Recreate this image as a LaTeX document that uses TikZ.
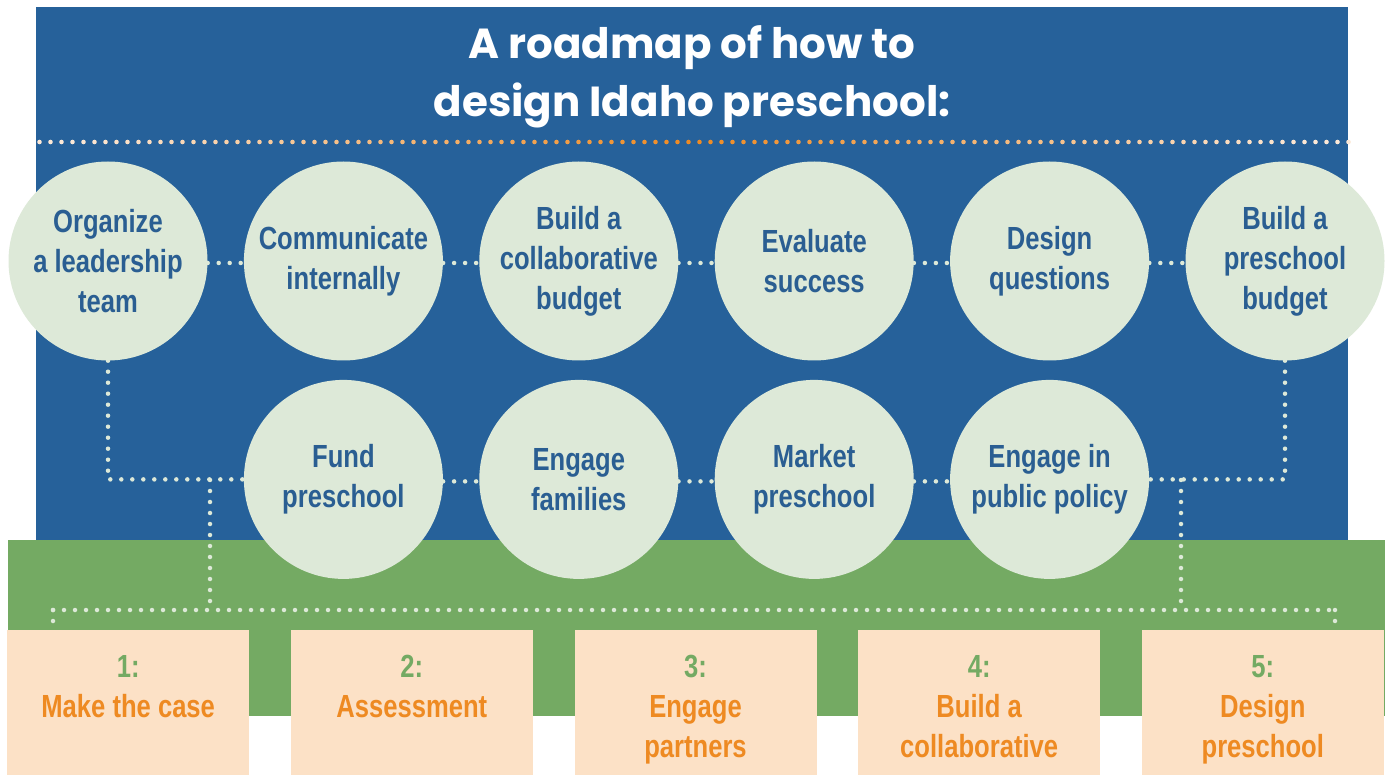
\documentclass[tikz,border=0pt]{standalone}
\usepackage{fontspec}
\setmainfont{Liberation Sans}
\newfontfamily\narrowfont[FakeStretch=0.8]{Liberation Sans}
\newfontfamily\titlefont{Poppins}
\usetikzlibrary{positioning, calc}
\definecolor{roadblue}{HTML}{26619A}
\definecolor{roadtext}{HTML}{2A5E92}
\definecolor{leaf}{HTML}{DDE9D8}
\definecolor{grass}{HTML}{74AA63}
\definecolor{peach}{HTML}{FCE1C6}
\definecolor{palepeach}{HTML}{FCE8D6}
\definecolor{roadorange}{HTML}{EE8A22}

\begin{document}
\begin{tikzpicture}[x=1pt, y=-1pt,
    stepcircle/.style={circle, fill=leaf, minimum size=199pt, inner sep=0pt, align=center,
      text=roadtext, font=\narrowfont\bfseries\fontsize{32}{40}\selectfont},
    stagebox/.style={rectangle, fill=peach, minimum width=242pt, minimum height=145pt,
      inner sep=0pt, anchor=north west},
    stagetext/.style={align=center, anchor=north, inner sep=0pt, text=roadorange,
      font=\narrowfont\bfseries\fontsize{32}{40}\selectfont},
    dotline/.style={leaf, line width=4.5pt, line cap=round, dash pattern=on 0pt off 11pt}]
      \useasboundingbox (0,0) rectangle (1385,775);
      \fill[white] (0,0) rectangle (1385,775);

      % Set up panels
      \fill[roadblue] (36,7) rectangle (1348,540);
      \fill[grass] (8,540) rectangle (1385,716);

      % Title
      \node[align=center, text=white, font=\titlefont\bfseries\fontsize{42}{58}\selectfont]
          (title) at (692,77) {A roadmap of how to\\design Idaho preschool:};

      % Dotted rule under the title
      \foreach \i in {0,...,119} {
          \pgfmathsetmacro{\px}{39.5+11*\i}
          \pgfmathsetmacro{\m}{max(0,100-abs(\px-692)/6.2)}
          \fill[roadorange!\m!palepeach] (\px,142) circle (2.3);
      }

      % Top row of steps
      \node[stepcircle] (c1) at (108,261) {Organize\\a leadership\\team};
      \node[stepcircle, right=36pt of c1] (c2) {Communicate\\internally};
      \node[stepcircle, right=36pt of c2] (c3) {Build a\\collaborative\\budget};
      \node[stepcircle, right=36pt of c3] (c4) {Evaluate\\success};
      \node[stepcircle, right=36pt of c4] (c5) {Design\\questions};
      \node[stepcircle, right=36pt of c5] (c6) {Build a\\preschool\\budget};

      % Bottom row of steps
      \node[stepcircle, below=19pt of c2] (b1) {Fund\\preschool};
      \node[stepcircle, below=19pt of c3] (b2) {Engage\\families};
      \node[stepcircle, below=19pt of c4] (b3) {Market\\preschool};
      \node[stepcircle, below=19pt of c5] (b4) {Engage in\\public policy};

      % Dotted links between the steps
      \foreach \a/\b in {c1/c2, c2/c3, c3/c4, c4/c5, c5/c6, b1/b2, b2/b3, b3/b4} {
          \draw[dotline] ([yshift=-2pt]\a.east) -- ([yshift=-2pt]\b.west);
      }
      \draw[dotline] (c1.south) |- (b1.west);
      \draw[dotline] (c6.south) |- (b4.east);

      % Stages
      \node[stagebox] (s1) at (7,630) {};
      \node[stagebox, right=41.25pt of s1.north east, anchor=north west] (s2) {};
      \node[stagebox, right=41.25pt of s2.north east, anchor=north west] (s3) {};
      \node[stagebox, right=41.25pt of s3.north east, anchor=north west] (s4) {};
      \node[stagebox, right=41.25pt of s4.north east, anchor=north west] (s5) {};

      \foreach \s/\n/\label in {s1/1/Make the case, s2/2/Assessment, s3/3/Engage\\partners,
                                s4/4/Build a\\collaborative, s5/5/Design\\preschool} {
          \node[stagetext, below=25pt of \s.north] (t\n) {\textcolor{grass}{\n:}\\\label};
      }

      % Dotted links down to the stages
      \coordinate (jl) at (210,480);
      \coordinate (jr) at (1181,480);
      \coordinate (hl) at (53,610);
      \coordinate (hr) at (1335,610);
      \draw[dotline] (jl) -- (jl |- hl);
      \draw[dotline] (jr) -- (jr |- hr);
      \draw[dotline] (hl) -- (hr);
      \draw[dotline] (hl) -- (hl |- s1.north);
      \draw[dotline] (hr) -- (hr |- s5.north);
    \end{tikzpicture}
\end{document}
